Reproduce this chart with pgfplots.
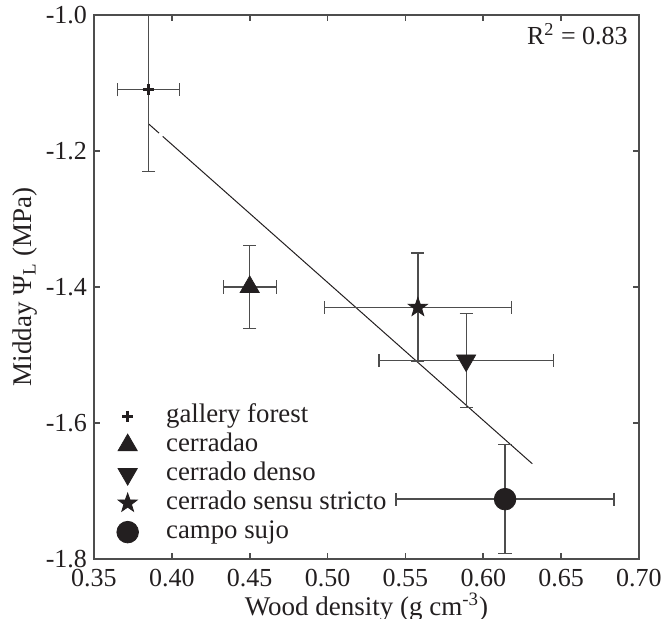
\documentclass[border=0pt]{standalone}
\usepackage{fontspec}
\setmainfont{Liberation Serif}
\usepackage{pgfplots}
\pgfplotsset{compat=1.18}

\definecolor{ink}{HTML}{231F20}
\definecolor{axisgray}{HTML}{4D4D4D}

% filled five-pointed star
\pgfdeclareplotmark{fstar}{%
  \pgfpathmoveto{\pgfpointpolar{90}{\pgfplotmarksize}}%
  \pgfpathlineto{\pgfpointpolar{126}{0.4\pgfplotmarksize}}%
  \pgfpathlineto{\pgfpointpolar{162}{\pgfplotmarksize}}%
  \pgfpathlineto{\pgfpointpolar{198}{0.4\pgfplotmarksize}}%
  \pgfpathlineto{\pgfpointpolar{234}{\pgfplotmarksize}}%
  \pgfpathlineto{\pgfpointpolar{270}{0.4\pgfplotmarksize}}%
  \pgfpathlineto{\pgfpointpolar{306}{\pgfplotmarksize}}%
  \pgfpathlineto{\pgfpointpolar{342}{0.4\pgfplotmarksize}}%
  \pgfpathlineto{\pgfpointpolar{18}{\pgfplotmarksize}}%
  \pgfpathlineto{\pgfpointpolar{54}{0.4\pgfplotmarksize}}%
  \pgfpathclose
  \pgfusepathqfillstroke
}

\pgfplotsset{
  errpts/.style={only marks, color=ink,
    error bars/x dir=both, error bars/x explicit,
    error bars/y dir=both, error bars/y explicit,
    error bars/error bar style={axisgray, line width=0.65pt, solid},
    error bars/error mark options={rotate=90, axisgray, line width=0.65pt,
        mark size=3.3pt, solid, fill=none}},
}

\begin{document}
\begin{tikzpicture}
\useasboundingbox (-47pt,-30pt) rectangle (283.5pt,279.5pt);
\begin{axis}[
    scale only axis,
    width=272.5pt, height=272pt,
    xmin=0.35, xmax=0.70,
    ymin=-1.8, ymax=-1.0,
    xtick={0.35,0.40,0.45,0.50,0.55,0.60,0.65,0.70},
    ytick={-1.8,-1.6,-1.4,-1.2,-1.0},
    tick align=inside,
    major tick length=3pt,
    xticklabel style={/pgf/number format/.cd, fixed, fixed zerofill, precision=2},
    yticklabel style={/pgf/number format/.cd, fixed, fixed zerofill, precision=1},
    xticklabel shift=1.5pt,
    /pgf/number format/assume math mode=true,
    tick label style={font=\fontsize{13}{15}\selectfont, text=ink},
    label style={font=\fontsize{13.5}{16}\selectfont, text=ink},
    axis line style={axisgray, line width=0.9pt},
    every tick/.style={axisgray, line width=0.8pt},
    xlabel={Wood density (g cm\textsuperscript{-3})},
    ylabel={Midday Ψ\textsubscript{L} (MPa)},
    xlabel style={at={(axis description cs:0.5,-0.089)}, anchor=center},
    ylabel style={at={(axis description cs:-0.127,0.5)}, anchor=center},
    legend style={draw=none, fill=none, at={(rel axis cs:0.029,0.29)},
        anchor=north west, inner sep=0pt,
        font=\fontsize{13.4}{16}\selectfont, text=ink,
        nodes={text height=9pt, text depth=3pt, inner sep=1.25pt}},
    legend cell align=left,
    legend image code/.code={\path (0cm,0cm) (0.925cm,0cm);
        \draw[mark repeat=2,mark phase=2,#1]
        plot coordinates {(0cm,0cm) (0.3cm,0cm) (0.6cm,0cm)};},
]

% regression line
\addplot[forget plot, ink, line width=0.5pt, dash pattern=on 7pt off 2.5pt on 500pt]
    coordinates {(0.385,-1.160) (0.6315,-1.660)};

\addplot[errpts, mark=+, mark size=2.8pt, mark options={line width=1.6pt}]
    coordinates {(0.385,-1.110) +- (0.020,0.120)};
\addlegendentry{gallery forest}

\addplot[errpts, mark=triangle*, mark size=5.5pt, mark options={fill=ink}]
    coordinates {(0.450,-1.400) +- (0.017,0.061)};
\addlegendentry{cerradao}

\addplot[errpts, mark=triangle*, mark size=5.5pt, mark options={fill=ink, rotate=180}]
    coordinates {(0.589,-1.508) +- (0.056,0.069)};
\addlegendentry{cerrado denso}

\addplot[errpts, mark=fstar, mark size=5pt, mark options={fill=ink}]
    coordinates {(0.558,-1.430) +- (0.060,0.080)};
\addlegendentry{cerrado sensu stricto}

\addplot[errpts, mark=*, mark size=5.4pt, mark options={fill=ink}]
    coordinates {(0.614,-1.712) +- (0.070,0.080)};
\addlegendentry{campo sujo}

\node[anchor=north east, inner sep=0pt, font=\fontsize{13}{15}\selectfont, text=ink]
    at (rel axis cs:0.980,0.985) {R\textsuperscript{2} = 0.83};

\end{axis}
\end{tikzpicture}
\end{document}
